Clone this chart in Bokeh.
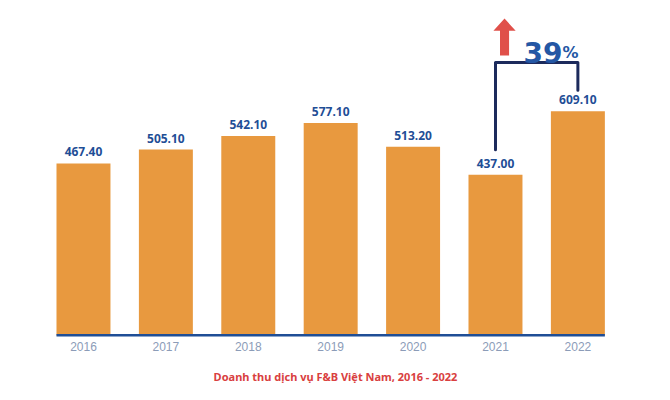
from bokeh.plotting import figure
from bokeh.models import Range1d, FixedTicker, Title, ColumnDataSource
from bokeh.core.properties import value
from bokeh.embed import file_html
from bokeh.resources import INLINE

years = ["2016", "2017", "2018", "2019", "2020", "2021", "2022"]
revenue = [467.40, 505.10, 542.10, 577.10, 513.20, 437.00, 609.10]
title_text = "Doanh thu dịch vụ F&B Việt Nam, 2016 - 2022"

BAR = "#E8993F"
NAVY = "#1F4E96"
DARK = "#1C2A5C"
RED = "#E0504A"
BLUE = "#2457A4"

idx = list(range(len(years)))
labels = ["%.2f" % v for v in revenue]
src = ColumnDataSource(dict(x=idx, top=revenue, label=labels))

p = figure(width=670, height=400, output_backend="svg", toolbar_location=None,
           x_range=Range1d(-1.007, 7.124), y_range=Range1d(-2.7, 910.3),
           min_border_left=0, min_border_right=0, min_border_top=0, min_border_bottom=64)
p.outline_line_color = None
p.grid.grid_line_color = None
p.yaxis.visible = False
p.background_fill_color = "white"

bw = 0.655
p.vbar(x="x", top="top", width=bw, bottom=0, source=src, color=BAR, line_color=None)

# baseline
p.segment(x0=[idx[0] - bw / 2], x1=[idx[-1] + bw / 2], y0=[0], y1=[0],
          line_color=NAVY, line_width=3)

p.text(x="x", y="top", text="label", source=src, text_align="center",
       text_baseline="bottom", y_offset=-7, text_color=NAVY,
       text_font=value("Noto Sans"), text_font_style="bold", text_font_size="12px")

ax = p.xaxis[0]
ax.ticker = FixedTicker(ticks=idx)
ax.major_label_overrides = {i: y for i, y in zip(idx, years)}
ax.axis_line_color = None
ax.major_tick_line_color = None
ax.minor_tick_line_color = None
ax.major_tick_out = 0
ax.major_tick_in = 0
ax.major_label_standoff = 5
ax.major_label_text_color = "#8C9CB8"
ax.major_label_text_font = "Liberation Sans"
ax.major_label_text_font_size = "12px"

# bracket between 2021 and 2022
i0, i1 = 5, 6
v0, v1 = revenue[i0], revenue[i1]
top_y = max(revenue) + 133
p.line(x=[i0, i0, i1, i1], y=[v0 + 68, top_y, top_y, v1 + 57],
       line_color=DARK, line_width=3, line_join="round", line_cap="round")

# arrow
ax_c = i0 + 0.11
shaft = 0.055
head = 0.135
y_tail = top_y + 19
y_neck = top_y + 86
y_tip = top_y + 119
p.patch(x=[ax_c - shaft, ax_c + shaft, ax_c + shaft, ax_c + head, ax_c, ax_c - head, ax_c - shaft],
        y=[y_tail, y_tail, y_neck, y_neck, y_tip, y_neck, y_neck],
        color=RED, line_color=None)

pct = round((v1 - v0) / v0 * 100)
p.text(x=[i0 + 0.34], y=[top_y + 27], text=[str(pct)], text_align="left",
       text_baseline="alphabetic", text_color=BLUE, text_font=value("DejaVu Sans"),
       text_font_style="bold", text_font_size="28px")
p.text(x=[i0 + 0.813], y=[top_y + 27], text=["%"], text_align="left",
       text_baseline="alphabetic", text_color=BLUE, text_font=value("DejaVu Sans"),
       text_font_style="bold", text_font_size="16px")

t = Title(text=title_text, align="center", text_color="#D94040",
          text_font="Noto Sans", text_font_style="bold", text_font_size="11px",
          standoff=27)
p.add_layout(t, "below")

open("out.html", "w").write(file_html(p, INLINE))
